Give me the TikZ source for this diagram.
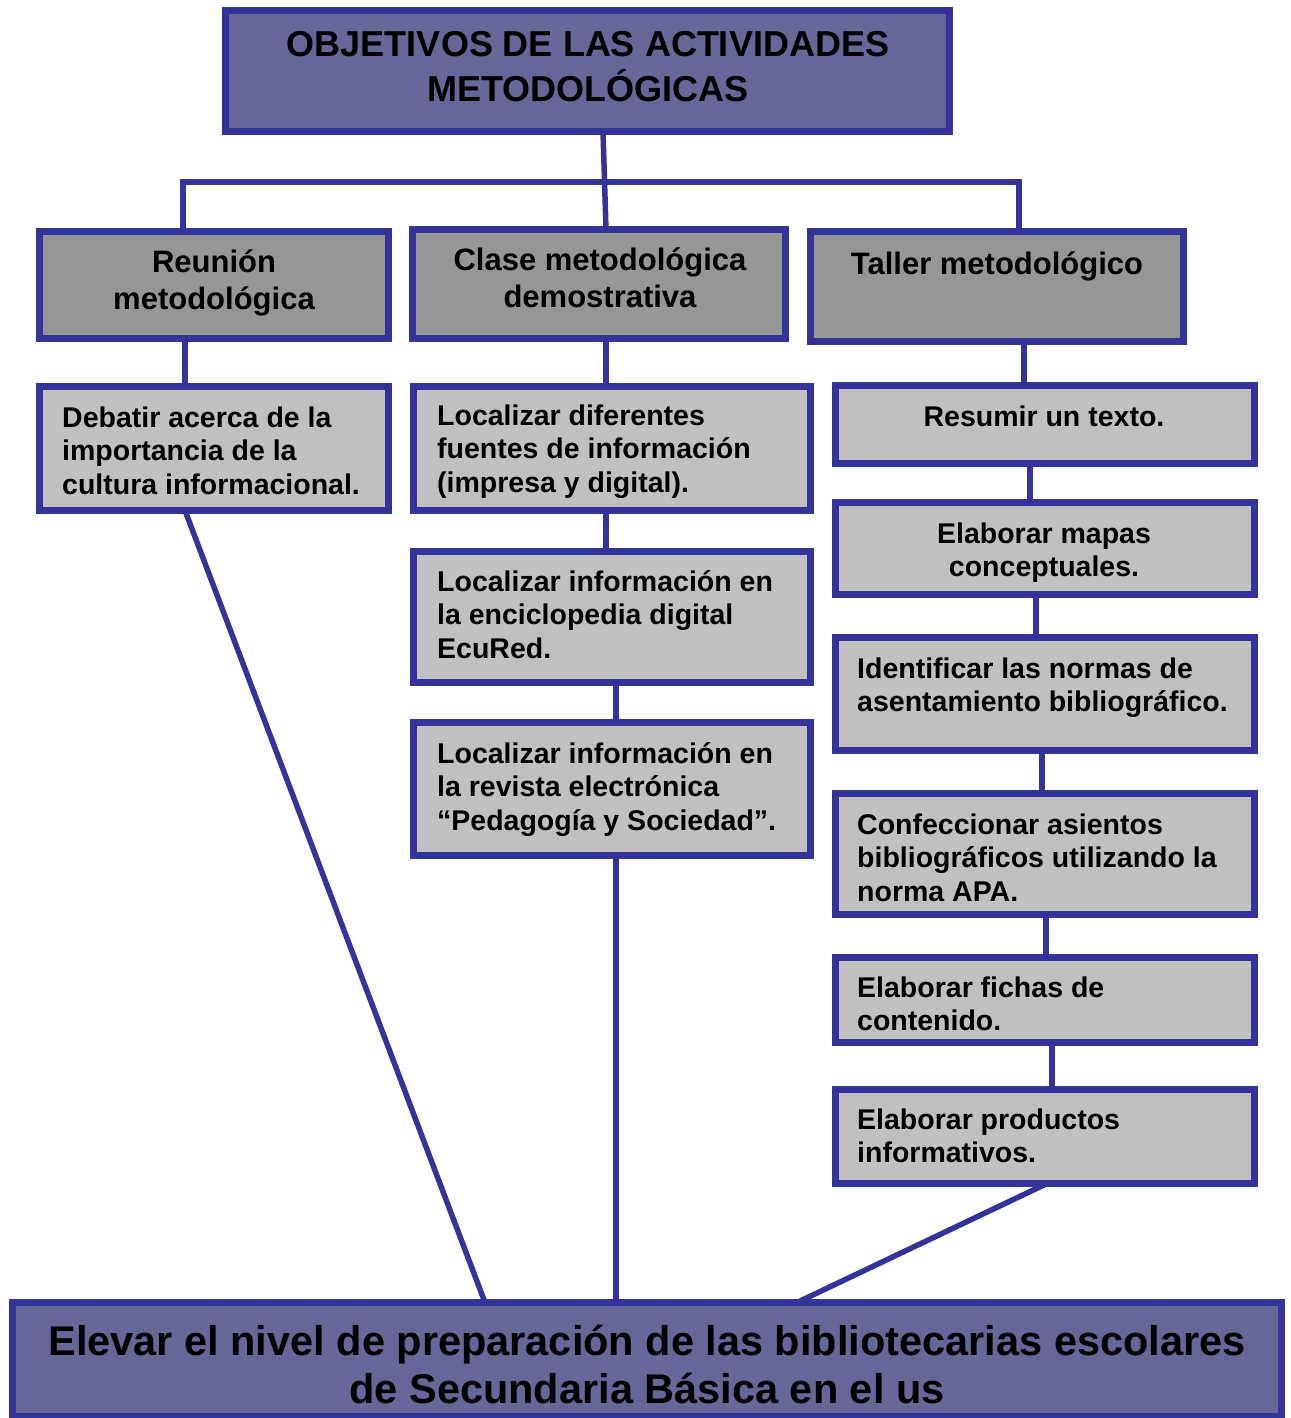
\documentclass[tikz,border=0pt]{standalone}
\usepackage{fontspec}
\setmainfont{Liberation Sans}
\usetikzlibrary{fit,backgrounds}
\definecolor{bdr}{HTML}{333399}
\definecolor{topf}{HTML}{666699}
\definecolor{midf}{HTML}{969696}
\definecolor{leaff}{HTML}{C0C0C0}
\newcommand\tl[2]{\begin{tabular}[t]{@{}#1@{}}#2\end{tabular}}
\begin{document}
\begin{tikzpicture}[x=1pt,y=-1pt,
 bx/.style={draw=bdr, line width=7pt, inner sep=0pt, outer sep=0pt},
 conn/.style={draw=bdr, line width=5.5pt},
 leaftxt/.style={inner sep=0pt, font=\bfseries\fontsize{28.5}{33.5}\selectfont},
 midtxt/.style={inner sep=0pt, font=\bfseries\fontsize{31}{37}\selectfont},
 toptxt/.style={inner sep=0pt, font=\bfseries\fontsize{36}{43}\selectfont},
 bottxt/.style={inner sep=0pt, font=\bfseries\fontsize{41.5}{48}\selectfont}]
\useasboundingbox (0,0) rectangle (1290,1418);
% boxes
\node[bx, fill=topf, fit={(225.5,10.5)(949.5,131.5)}] (top) {};
\node[bx, fill=midf, fit={(39.5,231.5)(388.5,338.5)}] (reunion) {};
\node[bx, fill=midf, fit={(412.5,229.5)(785.5,338.5)}] (clase) {};
\node[bx, fill=midf, fit={(810.5,231.5)(1183.5,341.5)}] (taller) {};
\node[bx, fill=leaff, fit={(39.5,386.5)(388.5,510.5)}] (debatir) {};
\node[bx, fill=leaff, fit={(413.5,386.5)(810.5,510.5)}] (loca) {};
\node[bx, fill=leaff, fit={(413.5,551.5)(810.5,682.5)}] (locb) {};
\node[bx, fill=leaff, fit={(413.5,722.5)(810.5,855.5)}] (locc) {};
\node[bx, fill=leaff, fit={(835.5,385.5)(1254.5,463.5)}] (resumir) {};
\node[bx, fill=leaff, fit={(835.5,502.5)(1254.5,594.5)}] (mapas) {};
\node[bx, fill=leaff, fit={(835.5,637.5)(1254.5,750.5)}] (ident) {};
\node[bx, fill=leaff, fit={(835.5,793.5)(1254.5,914.5)}] (conf) {};
\node[bx, fill=leaff, fit={(835.5,957.5)(1254.5,1042.5)}] (fichas) {};
\node[bx, fill=leaff, fit={(835.5,1089.5)(1254.5,1183.5)}] (prod) {};
\node[bx, fill=topf, fit={(12.5,1302.5)(1281.5,1416)}] (bottom) {};
% texts
\node[toptxt, anchor=base] (ttop) at (588,57) {\tl{c}{OBJETIVOS DE LAS ACTIVIDADES\\METODOLÓGICAS}};
\node[midtxt, anchor=base] (treu) at (214,272) {\tl{c}{Reunión\\metodológica}};
\node[midtxt, anchor=base] (tcla) at (600,270) {\tl{c}{Clase metodológica\\demostrativa}};
\node[midtxt, anchor=base] (ttal) at (997,274) {\tl{c}{Taller metodológico}};
\node[leaftxt, anchor=base west] (tdeb) at (62,427) {\tl{l}{Debatir acerca de la\\importancia de la\\cultura informacional.}};
\node[leaftxt, anchor=base west] (tloca) at (437,425) {\tl{l}{Localizar diferentes\\fuentes de información\\(impresa y digital).}};
\node[leaftxt, anchor=base west] (tlocb) at (437,591) {\tl{l}{Localizar información en\\la enciclopedia digital\\EcuRed.}};
\node[leaftxt, anchor=base west] (tlocc) at (437,763) {\tl{l}{Localizar información en\\la revista electrónica\\“Pedagogía y Sociedad”.}};
\node[leaftxt, anchor=base] (tres) at (1044,426) {\tl{c}{Resumir un texto.}};
\node[leaftxt, anchor=base] (tmap) at (1044,543) {\tl{c}{Elaborar mapas\\conceptuales.}};
\node[leaftxt, anchor=base west] (tide) at (857,678) {\tl{l}{Identificar las normas de\\asentamiento bibliográfico.}};
\node[leaftxt, anchor=base west] (tcon) at (857,834) {\tl{l}{Confeccionar asientos\\bibliográficos utilizando la\\norma APA.}};
\node[leaftxt, anchor=base west] (tfic) at (857,997) {\tl{l}{Elaborar fichas de\\contenido.}};
\node[leaftxt, anchor=base west] (tpro) at (857,1129) {\tl{l}{Elaborar productos\\informativos.}};
\node[bottxt, anchor=base] (tbot) at (647,1355) {\tl{c}{Elevar el nivel de preparación de las bibliotecarias escolares\\de Secundaria Básica en el us}};
% connectors
\coordinate (bar) at (600,182);
\begin{scope}[on background layer]
\draw[conn] ([xshift=15.5]top.south) -- ([xshift=7]clase.north);
\draw[conn] ([xshift=-31]reunion.north) |- (bar) -| ([xshift=22]taller.north);
\draw[conn] ([xshift=-29]reunion.south) -- ([xshift=-29]debatir.north);
\draw[conn] ([xshift=7]clase.south) -- ([xshift=-6]loca.north);
\draw[conn] ([xshift=-6]loca.south) -- ([xshift=-6]locb.north);
\draw[conn] ([xshift=4]locb.south) -- ([xshift=4]locc.north);
\draw[conn] ([xshift=4]locc.south) -- ([xshift=-31]bottom.north);
\draw[conn] ([xshift=27]taller.south) -- ([xshift=-21]resumir.north);
\draw[conn] ([xshift=-15]resumir.south) -- ([xshift=-15]mapas.north);
\draw[conn] ([xshift=-9]mapas.south) -- ([xshift=-9]ident.north);
\draw[conn] ([xshift=-3]ident.south) -- ([xshift=-3]conf.north);
\draw[conn] ([xshift=1]conf.south) -- ([xshift=1]fichas.north);
\draw[conn] ([xshift=7]fichas.south) -- ([xshift=7]prod.north);
\draw[conn] ([xshift=2]prod.south) -- ([xshift=150]bottom.north);
\draw[conn] ([xshift=-29]debatir.south) -- ([xshift=-162]bottom.north);
\end{scope}
\end{tikzpicture}
\end{document}
